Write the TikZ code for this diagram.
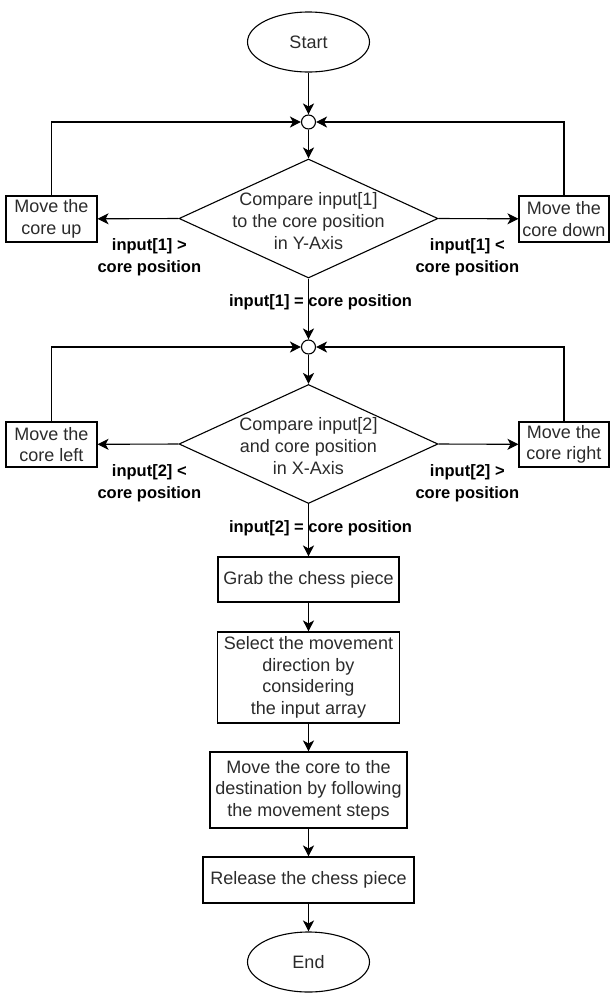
\documentclass[tikz,border=0pt]{standalone}
\usepackage{fontspec}
\setmainfont{Liberation Sans}
\usetikzlibrary{arrows.meta,positioning,shapes.geometric,calc}
\definecolor{FlowText}{HTML}{2B2B2B}

\begin{document}
\begin{tikzpicture}[
  x=1pt,y=-1pt,
  flowarrow/.style={-{Stealth[length=11pt,width=11pt,inset=3pt]},line width=1.1pt,draw=black},
  term/.style={ellipse,draw,line width=1.1pt,minimum width=122pt,minimum height=60pt,inner sep=0pt,
    font=\fontsize{18}{21.6}\selectfont,text=FlowText},
  procbox/.style={rectangle,draw,line width=1.1pt,align=center,inner sep=1pt,
    font=\fontsize{18}{21.6}\selectfont,text=FlowText},
  decision/.style={diamond,draw,line width=1.1pt,minimum width=259pt,minimum height=119pt,inner sep=0pt},
  dtext/.style={align=center,inner sep=0pt,font=\fontsize{18}{21.6}\selectfont,text=FlowText},
  junction/.style={circle,draw,line width=1.1pt,minimum size=14pt,inner sep=0pt},
  lbl/.style={font=\fontsize{16.5}{22}\selectfont\bfseries,align=center,inner sep=0pt}
]
  \node[term] (start) at (308.5,42) {Start};
  \node[junction] (jY) at (308.5,122) {};
  \node[decision] (cmpY) at (308.5,218.5) {};
  \node[dtext] at (308.5,221) {Compare input[1]\\to the core position\\in Y-Axis};
  \node[procbox,minimum width=91pt,minimum height=46pt] (up) at (51.5,219) {Move the\\core up};
  \node[procbox,minimum width=90pt,minimum height=46pt] (down) at (564,219) {Move the\\core down};

  \node[junction] (jX) at (308.5,347) {};
  \node[decision] (cmpX) at (308.5,444) {};
  \node[dtext] at (308.5,446) {Compare input[2]\\and core position\\in X-Axis};
  \node[procbox,minimum width=91pt,minimum height=45pt] (left) at (51.5,444.5) {Move the\\core left};
  \node[procbox,minimum width=90pt,minimum height=45pt] (right) at (564,444.5) {Move the\\core right};

  \node[procbox,minimum width=181pt,minimum height=45pt] (grab) at (308.5,579.5) {Grab the chess piece};
  \node[procbox,minimum width=182pt,minimum height=91pt] (select) at (308.5,677.5)
    {Select the movement\\direction by\\considering\\the input array};
  \node[procbox,minimum width=197pt,minimum height=76pt] (move) at (308.5,790)
    {Move the core to the\\destination by following\\the movement steps};
  \node[procbox,minimum width=211pt,minimum height=46pt] (release) at (308.5,880) {Release the chess piece};
  \node[term] (end) at (308.5,962) {End};

  \draw[flowarrow] (start) -- (jY);
  \draw[flowarrow] (jY) -- (cmpY);
  \draw[flowarrow] (cmpY.west) -- node[lbl,pos=0.36,yshift=-39pt]{input[1] >\\core position} (up);
  \draw[flowarrow] (cmpY.east) -- node[lbl,pos=0.36,yshift=-39pt]{input[1] <\\core position} (down);
  \draw[flowarrow] (up.north) |- (jY.west);
  \draw[flowarrow] (down.north) |- (jY.east);
  \draw[flowarrow] (cmpY.south) -- node[lbl,pos=0.39,xshift=12pt]{input[1] = core position} (jX);

  \draw[flowarrow] (jX) -- (cmpX);
  \draw[flowarrow] (cmpX.west) -- node[lbl,pos=0.36,yshift=-39pt]{input[2] <\\core position} (left);
  \draw[flowarrow] (cmpX.east) -- node[lbl,pos=0.36,yshift=-39pt]{input[2] >\\core position} (right);
  \draw[flowarrow] (left.north) |- (jX.west);
  \draw[flowarrow] (right.north) |- (jX.east);
  \draw[flowarrow] (cmpX.south) -- node[lbl,pos=0.46,xshift=12pt]{input[2] = core position} (grab);

  \draw[flowarrow] (grab) -- (select);
  \draw[flowarrow] (select) -- (move);
  \draw[flowarrow] (move) -- (release);
  \draw[flowarrow] (release) -- (end);

  \path (0,0) rectangle (610,994);
\end{tikzpicture}
\end{document}
